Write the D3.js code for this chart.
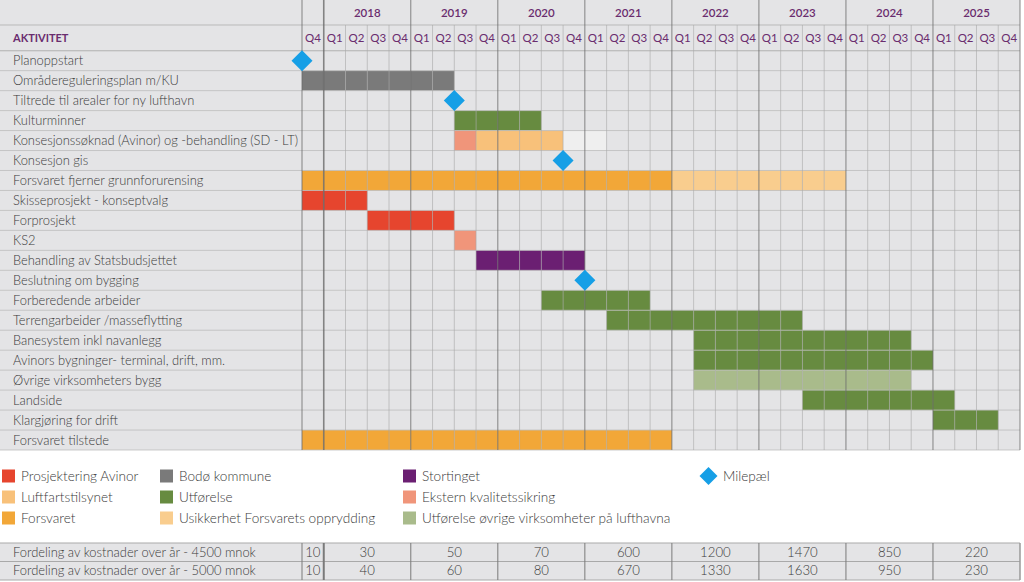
<!DOCTYPE html>
<html><head><meta charset="utf-8">
<script src="https://cdn.jsdelivr.net/npm/d3@7"></script>
<style>
html,body{margin:0;padding:0;background:#fff;}
svg{display:block;font-family:Lato,"Open Sans",sans-serif;}
</style></head><body>
<svg id="c" width="1024" height="582"></svg>
<script>
// ---------- data ----------
const years = ["2018","2019","2020","2021","2022","2023","2024","2025"];
const quarterNames = ["Q1","Q2","Q3","Q4"];
const firstColumnLabel = "Q4"; // Q4 2017
const activities = [
  "Planoppstart","Områdereguleringsplan m/KU","Tiltrede til arealer for ny lufthavn","Kulturminner",
  "Konsesjonssøknad (Avinor) og -behandling (SD - LT)","Konsesjon gis","Forsvaret fjerner grunnforurensing",
  "Skisseprosjekt - konseptvalg","Forprosjekt","KS2","Behandling av Statsbudsjettet","Beslutning om bygging",
  "Forberedende arbeider","Terrengarbeider /masseflytting","Banesystem inkl navanlegg",
  "Avinors bygninger- terminal, drift, mm.","Øvrige virksomheters bygg","Landside","Klargjøring for drift","Forsvaret tilstede"
];
// [activity index, first quarter column, last quarter column (inclusive), category]
const bars = [
  [1,0,6,"Bodø kommune"],
  [3,7,10,"Utførelse"],
  [4,7,7,"Ekstern kvalitetssikring"],
  [4,8,11,"Luftfartstilsynet"],
  [4,12,13,"Usikkerhet (lys)"],
  [6,0,16,"Forsvaret"],
  [6,17,24,"Usikkerhet Forsvarets opprydding"],
  [7,0,2,"Prosjektering Avinor"],
  [8,3,6,"Prosjektering Avinor"],
  [9,7,7,"Ekstern kvalitetssikring"],
  [10,8,12,"Stortinget"],
  [12,11,15,"Utførelse"],
  [13,14,22,"Utførelse"],
  [14,18,27,"Utførelse"],
  [15,18,28,"Utførelse"],
  [16,18,27,"Utførelse øvrige virksomheter på lufthavna"],
  [17,23,29,"Utførelse"],
  [18,29,31,"Utførelse"],
  [19,0,16,"Forsvaret"]
];
// [activity index, quarter boundary position]
const milestones = [[0,0],[2,7],[5,12],[11,13]];
const legendItems = [
  "Prosjektering Avinor","Luftfartstilsynet","Forsvaret",
  "Bodø kommune","Utførelse","Usikkerhet Forsvarets opprydding",
  "Stortinget","Ekstern kvalitetssikring","Utførelse øvrige virksomheter på lufthavna"
];
const costRowLabels = ["Fordeling av kostnader over år - 4500 mnok","Fordeling av kostnader over år - 5000 mnok"];
const cost4500 = [10,30,50,70,600,1200,1470,850,220];
const cost5000 = [10,40,60,80,670,1330,1630,950,230];

// ---------- styles ----------
const colors = {
  "Prosjektering Avinor":"#e6452e",
  "Luftfartstilsynet":"#f8c17a",
  "Forsvaret":"#f2a738",
  "Bodø kommune":"#7a7a7a",
  "Utførelse":"#678b40",
  "Usikkerhet Forsvarets opprydding":"#f9cd8e",
  "Stortinget":"#6b1f72",
  "Ekstern kvalitetssikring":"#f0957a",
  "Utførelse øvrige virksomheter på lufthavna":"#a9bb8b",
  "Usikkerhet (lys)":"#efefef"
};
const purple = "#6a2c6e", textCol = "#3a3a3a", cellFill = "#e4e4e6", blue = "#169fe6";

const svg = d3.select("#c");
const nCols = 1 + years.length*4;
const x = d3.scaleLinear().domain([0,nCols]).range([302,1020]);
const y = d3.scaleBand().domain(d3.range(activities.length)).range([50.7,450]);
const rowH = y.bandwidth();

// backgrounds
svg.append("rect").attr("x",0).attr("y",0).attr("width",1020).attr("height",450).attr("fill",cellFill);

// bars as cells
const cells = [];
bars.forEach(b=>{ for(let c=b[1];c<=b[2];c++) cells.push({r:b[0],c:c,cat:b[3]}); });
svg.append("g").selectAll("rect").data(cells).join("rect")
  .attr("x",d=>x(d.c)).attr("y",d=>y(d.r))
  .attr("width",x(1)-x(0)).attr("height",rowH)
  .attr("fill",d=>colors[d.cat]);

// horizontal lines
const hl = svg.append("g");
[25,50.7].forEach(v=>hl.append("line").attr("x1",0).attr("x2",1020).attr("y1",v).attr("y2",v).attr("stroke","#b9b9b9"));
d3.range(activities.length+1).forEach(i=>{
  const yy = i<activities.length ? y(i) : 450;
  hl.append("line").attr("x1",0).attr("x2",1020).attr("y1",yy).attr("y2",yy)
    .attr("stroke","#bdbdbd").attr("stroke-opacity",0.8);
});
// vertical lines
const vl = svg.append("g");
d3.range(nCols+1).forEach(i=>{
  const isYear = (i-1)%4===0 || i===0;
  vl.append("line").attr("x1",x(i)).attr("x2",x(i))
    .attr("y1",isYear?0:25).attr("y2",450)
    .attr("stroke",isYear?"#6a6a6a":"#a9a9a9")
    .attr("stroke-opacity",isYear?0.8:0.6)
    .attr("stroke-width",(i===1)?1.6:1);
});

// header text
svg.append("text").attr("x",13).attr("y",42).text("AKTIVITET")
  .attr("fill",purple).attr("font-size",11).attr("font-weight",700);
svg.append("g").selectAll("text").data(years).join("text")
  .attr("x",(d,i)=>(x(1+i*4)+x(5+i*4))/2).attr("y",17).attr("text-anchor","middle")
  .attr("fill",purple).attr("font-size",11.5).attr("font-weight",600).text(d=>d);
const qLabels = [firstColumnLabel].concat(...years.map(()=>quarterNames));
svg.append("g").selectAll("text").data(qLabels).join("text")
  .attr("x",(d,i)=>(x(i)+x(i+1))/2).attr("y",42).attr("text-anchor","middle")
  .attr("fill",purple).attr("font-size",11.5).text(d=>d);

// activity labels
svg.append("g").selectAll("text").data(activities).join("text")
  .attr("x",13).attr("y",(d,i)=>y(i)+rowH/2+4.5)
  .attr("fill",textCol).attr("font-size",12.9).attr("font-weight",300).text(d=>d);

// milestones
const dia = 10.5;
svg.append("g").selectAll("path").data(milestones).join("path")
  .attr("d",d=>{const cx=x(d[1]), cy=y(d[0])+rowH/2; return `M${cx},${cy-dia}L${cx+dia},${cy}L${cx},${cy+dia}L${cx-dia},${cy}Z`;})
  .attr("fill",blue);

// legend
const legX = [2,160,403], legY = [476,497,518];
const lg = svg.append("g");
legendItems.forEach((name,i)=>{
  const col = Math.floor(i/3), row = i%3;
  lg.append("rect").attr("x",legX[col]).attr("y",legY[row]-6.5).attr("width",13).attr("height",13).attr("fill",colors[name]);
  lg.append("text").attr("x",legX[col]+19).attr("y",legY[row]+5).attr("font-size",13.6).attr("font-weight",300).attr("fill",textCol).text(name);
});
lg.append("path").attr("d",`M708.5,467L717.5,476L708.5,485L699.5,476Z`).attr("fill",blue);
lg.append("text").attr("x",723).attr("y",481).attr("font-size",13.6).attr("font-weight",300).attr("fill",textCol).text("Milepæl");

// cost table
const tTop = 543, tRow = 18.5;
const tb = svg.append("g");
tb.append("rect").attr("x",0).attr("y",tTop).attr("width",1020).attr("height",tRow*2).attr("fill",cellFill);
[tTop,tTop+tRow,tTop+2*tRow].forEach(v=>tb.append("line").attr("x1",0).attr("x2",1020).attr("y1",v).attr("y2",v).attr("stroke","#a9a9a9"));
const colEdges = [0].concat(years.map((d,i)=>1+i*4)).concat([nCols]);
colEdges.forEach((c,i)=>{
  tb.append("line").attr("x1",x(c)).attr("x2",x(c)).attr("y1",tTop).attr("y2",tTop+2*tRow)
    .attr("stroke","#7a7a7a").attr("stroke-width",i===1?2:1);
});
tb.append("line").attr("x1",1020).attr("x2",1020).attr("y1",tTop).attr("y2",tTop+2*tRow).attr("stroke","#a9a9a9");
[cost4500,cost5000].forEach((vals,r)=>{
  tb.append("text").attr("x",13).attr("y",tTop+r*tRow+tRow/2+4.5).attr("font-size",12.9).attr("font-weight",300).attr("fill",textCol).text(costRowLabels[r]);
  vals.forEach((v,i)=>{
    tb.append("text").attr("x",(x(colEdges[i])+x(colEdges[i+1]))/2).attr("y",tTop+r*tRow+tRow/2+4.5)
      .attr("text-anchor","middle").attr("font-size",13.2).attr("font-weight",300).attr("fill",textCol).text(v);
  });
});
</script></body></html>
